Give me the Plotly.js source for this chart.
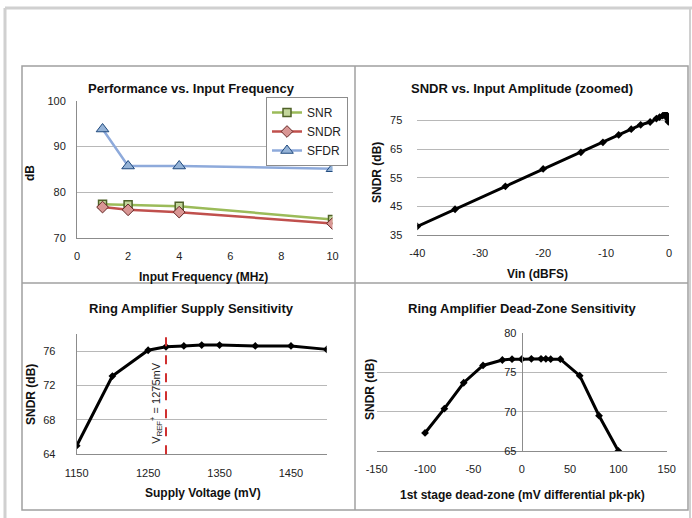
<!DOCTYPE html>
<html><head><meta charset="utf-8">
<script src="https://cdn.plot.ly/plotly-3.0.1.min.js"></script>
<style>html,body{margin:0;padding:0;background:#fff}#c{width:692px;height:518px}</style>
</head><body><div id="c"></div>
<script>
// ---- Data ----
const freqMHz = [1, 2, 4, 10];
const snrDb   = [77.3, 77.2, 76.9, 74.0];
const sndrDb  = [76.7, 76.1, 75.6, 73.1];
const sfdrDb  = [93.8, 85.7, 85.7, 85.1];

const vinDbfs   = [-40, -34, -26, -20, -14, -10.5, -8, -6, -4.5, -3, -2, -1.5, -1, -0.7, -0.5, -0.3, -0.2, -0.1];
const sndrVsVin = [38.0, 44.0, 52.0, 58.1, 63.9, 67.4, 70.0, 72.0, 73.5, 74.5, 75.7, 76.2, 76.7, 77.0, 77.2, 76.6, 75.6, 74.6];
const vinTickVals = [-40, -30, -20, -10, 0];
const vinTickText = ['-40', '-30', '-20', '-10', '0'];

const supplyMv     = [1150, 1200, 1250, 1275, 1300, 1325, 1350, 1400, 1450, 1500];
const sndrVsSupply = [65.0, 73.1, 76.1, 76.5, 76.6, 76.7, 76.7, 76.6, 76.6, 76.2];
const vrefMv = 1275;

const deadZoneMv     = [-100, -80, -60, -40, -20, -10, 0, 10, 20, 25, 30, 40, 60, 80, 100];
const sndrVsDeadZone = [67.3, 70.4, 73.7, 75.9, 76.6, 76.7, 76.7, 76.75, 76.75, 76.75, 76.7, 76.7, 74.6, 69.5, 65.0];
const dzTickVals = [-150, -100, -50, 0, 50, 100, 150];
const dzTickText = ['-150', '-100', '-50', '0', '50', '100', '150'];

// ---- Layout helpers (pixel -> paper) ----
const W = 692, H = 518;
const px = v => v / W;
const py = v => 1 - v / H;
const FONT = 'Liberation Sans, Arial, sans-serif';
const gridC = '#b8b8b8', lineC = '#8c8c8c';

function axisBase(extra) {
  return Object.assign({
    showgrid: false, zeroline: false, showline: true, linecolor: lineC, linewidth: 1,
    ticks: '', tickfont: {family: FONT, size: 11, color: '#222'}, fixedrange: true
  }, extra);
}

const blackLine = {color: '#000', width: 3};
const blackMarker = {symbol: 'diamond', size: 6, color: '#000'};

const traces = [
  {x: freqMHz, y: snrDb, name: 'SNR', xaxis: 'x', yaxis: 'y', mode: 'lines+markers',
   line: {color: '#9bbb59', width: 2.5},
   marker: {symbol: 'square', size: 8, color: '#c3d69b', line: {color: '#4f6228', width: 1.5}}},
  {x: freqMHz, y: sndrDb, name: 'SNDR', xaxis: 'x', yaxis: 'y', mode: 'lines+markers',
   line: {color: '#c0504d', width: 2.5},
   marker: {symbol: 'diamond', size: 9, color: '#d99694', line: {color: '#632523', width: 1}}},
  {x: freqMHz, y: sfdrDb, name: 'SFDR', xaxis: 'x', yaxis: 'y', mode: 'lines+markers',
   line: {color: '#8eaadb', width: 2.5},
   marker: {symbol: 'triangle-up', size: 11, color: '#95b3d7', line: {color: '#1f497d', width: 1}}},
  {x: vinDbfs, y: sndrVsVin, xaxis: 'x2', yaxis: 'y2', mode: 'lines+markers', showlegend: false,
   line: blackLine, marker: blackMarker},
  {x: supplyMv, y: sndrVsSupply, xaxis: 'x3', yaxis: 'y3', mode: 'lines+markers', showlegend: false,
   line: blackLine, marker: blackMarker},
  {x: deadZoneMv, y: sndrVsDeadZone, xaxis: 'x4', yaxis: 'y4', mode: 'lines+markers', showlegend: false,
   line: blackLine, marker: blackMarker}
];

const x4dom = [px(376.7), px(666.7)];
const x4range = [-150, 150];
const y4pos = x4dom[0] + (0 - x4range[0]) / (x4range[1] - x4range[0]) * (x4dom[1] - x4dom[0]);

function title(text, x, y) {
  return {text: '<b>' + text + '</b>', xref: 'paper', yref: 'paper', x: px(x), y: py(y),
          xanchor: 'center', yanchor: 'middle', showarrow: false,
          font: {family: FONT, size: 13, color: '#111'}};
}
function axTitle(text, x, y, rot) {
  return {text: '<b>' + text + '</b>', xref: 'paper', yref: 'paper', x: px(x), y: py(y),
          xanchor: 'center', yanchor: 'middle', showarrow: false, textangle: rot ? -90 : 0,
          font: {family: FONT, size: 12, color: '#111'}};
}

const layout = {
  width: W, height: H, margin: {l: 0, r: 0, t: 0, b: 0},
  paper_bgcolor: '#fff', plot_bgcolor: '#fff',
  font: {family: FONT},
  showlegend: true,
  legend: {x: px(266), y: py(97), xanchor: 'left', yanchor: 'top',
           bgcolor: '#fff', bordercolor: '#8c8c8c', borderwidth: 1,
           font: {family: FONT, size: 12, color: '#222'}, tracegroupgap: 0, itemwidth: 30},
  xaxis: axisBase({domain: [px(77), px(332.5)], range: [0, 10], dtick: 2, anchor: 'y', ticklabelstandoff: 8}),
  yaxis: axisBase({domain: [py(237.7), py(100.7)], range: [70, 100], dtick: 10, anchor: 'x',
                   showgrid: true, gridcolor: gridC, ticklabelstandoff: 8}),
  xaxis2: axisBase({domain: [px(417.3), px(669)], range: [-40, 0], tickmode: 'array',
                    tickvals: vinTickVals, ticktext: vinTickText, anchor: 'y2', ticklabelstandoff: 8}),
  yaxis2: axisBase({domain: [py(235), py(112)], range: [35, 78], tick0: 35, dtick: 10, anchor: 'x2',
                    showgrid: true, gridcolor: gridC, showline: false, ticklabelstandoff: 14}),
  xaxis3: axisBase({domain: [px(76.7), px(326.7)], range: [1150, 1500], tick0: 1150, dtick: 100, anchor: 'y3', ticklabelstandoff: 8}),
  yaxis3: axisBase({domain: [py(454.3), py(333.9)], range: [64, 78], tick0: 64, dtick: 4, anchor: 'x3',
                    showgrid: true, gridcolor: gridC, ticklabelstandoff: 18}),
  xaxis4: axisBase({domain: x4dom, range: x4range, tickmode: 'array', tickvals: dzTickVals, ticktext: dzTickText,
                    anchor: 'y4', ticklabelstandoff: 8}),
  yaxis4: axisBase({domain: [py(451), py(333.3)], range: [65, 80], dtick: 5, anchor: 'free', position: y4pos,
                    showgrid: true, gridcolor: gridC, ticklabelstandoff: 3}),
  shapes: [
    // outer frame
    {type: 'line', xref: 'paper', yref: 'paper', x0: px(5), x1: 1, y0: py(8), y1: py(8), line: {color: '#d0d0d0', width: 3}},
    {type: 'line', xref: 'paper', yref: 'paper', x0: px(5), x1: px(5), y0: py(8), y1: 0, line: {color: '#d0d0d0', width: 3}},
    {type: 'line', xref: 'paper', yref: 'paper', x0: px(690), x1: px(690), y0: py(8), y1: 0, line: {color: '#d0d0d0', width: 2}},
    // inner box & dividers
    {type: 'rect', xref: 'paper', yref: 'paper', x0: px(22), x1: px(688), y0: py(510), y1: py(66), line: {color: '#a0a0a0', width: 1.5}},
    {type: 'line', xref: 'paper', yref: 'paper', x0: px(355), x1: px(355), y0: py(510), y1: py(66), line: {color: '#a0a0a0', width: 1.5}},
    {type: 'line', xref: 'paper', yref: 'paper', x0: px(22), x1: px(688), y0: py(283), y1: py(283), line: {color: '#a0a0a0', width: 1.5}},
    // reference line
    {type: 'line', xref: 'x3', yref: 'y3 domain', x0: vrefMv, x1: vrefMv, y0: 0, y1: 1, line: {color: '#d03030', width: 2, dash: 'dash'}}
  ],
  annotations: [
    title('Performance vs. Input Frequency', 191, 88),
    title('SNDR vs. Input Amplitude (zoomed)', 522, 88),
    title('Ring Amplifier Supply Sensitivity', 192, 308),
    title('Ring Amplifier Dead-Zone Sensitivity', 522, 308),
    axTitle('dB', 30, 173, true),
    axTitle('Input Frequency (MHz)', 203, 277, false),
    axTitle('SNDR (dB)', 377, 173, true),
    axTitle('Vin (dBFS)', 537, 274, false),
    axTitle('SNDR (dB)', 31, 395, true),
    axTitle('Supply Voltage (mV)', 203, 493, false),
    axTitle('SNDR (dB)', 370, 390, true),
    axTitle('1st stage dead-zone (mV differential pk-pk)', 522, 495, false),
    {text: 'V<sub>REF</sub><sup>+</sup> = ' + vrefMv + 'mV', xref: 'x3', yref: 'y3', x: vrefMv, y: 70,
     xshift: -10, textangle: -90, showarrow: false, xanchor: 'center', yanchor: 'middle',
     font: {family: FONT, size: 11, color: '#222'}}
  ]
};

Plotly.newPlot('c', traces, layout, {staticPlot: true, displayModeBar: false});
</script></body></html>
